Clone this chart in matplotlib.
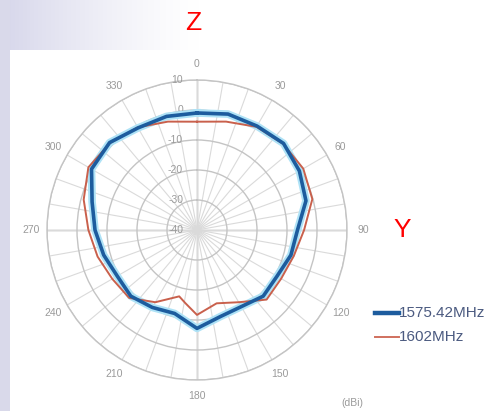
import numpy as np
import matplotlib.pyplot as plt
from matplotlib.patches import Rectangle
from matplotlib.transforms import offset_copy

# angles in degrees (clockwise from top), gain in dBi
angles_1575 = [0, 15, 30, 45, 60, 75, 90, 105, 120, 135, 150, 165, 180,
               195, 210, 225, 240, 255, 270, 285, 300, 315, 330, 345, 360]
gain_1575 = [-1.0, 0.0, 0.0, 0.8, -0.6, -2.4, -6.5, -7.6, -9.2, -8.8, -10.5, -10.1, -7.2,
             -11.2, -10.2, -8.8, -9.3, -7.8, -6.0, -3.8, 0.6, 1.2, -0.7, -0.8, -1.0]

angles_1602 = [0, 15, 30, 45, 60, 75, 90, 105, 120, 135, 150, 165, 180,
               189, 195, 210, 225, 240, 255, 270, 285, 300, 315, 330, 345, 360]
gain_1602 = [-3.9, -2.6, -0.3, 0.6, 0.9, -0.2, -4.3, -6.6, -7.6, -7.2, -12.2, -14.7, -11.7,
             -15.3, -17.1, -12.2, -8.0, -7.4, -5.7, -3.8, -0.9, 1.8, 1.0, -0.5, -2.6, -3.9]

r_ticks = [-40, -30, -20, -10, 0, 10]
theta_labels = [0, 30, 60, 90, 120, 150, 180, 210, 240, 270, 300, 330]

fig = plt.figure(figsize=(4.92, 4.11), dpi=100)
fig.patch.set_facecolor('white')

# slide background strip (lavender) on left and top-left
bg = fig.add_axes([0, 0, 1, 1], zorder=-5)
bg.set_xlim(0, 492)
bg.set_ylim(411, 0)
bg.axis('off')
bg.add_patch(Rectangle((0, 0), 10, 411, color='#d9d9ea', lw=0))
fade = np.linspace(1, 0, 200)[None, :] ** 1.3
img = np.ones((50, 200, 3))
lav = np.array([0.84, 0.84, 0.92])
img = 1 - (1 - lav)[None, None, :] * fade[:, :, None]
bg.imshow(img, extent=(0, 200, 50, 0), aspect='auto')
bg.set_xlim(0, 492)
bg.set_ylim(411, 0)

ax = fig.add_axes([0.0955, 0.0754, 0.6098, 0.73], projection='polar')
ax.set_theta_zero_location('N')
ax.set_theta_direction(-1)
ax.set_ylim(-40, 10)
ax.set_facecolor('white')

ax.set_xticks(np.deg2rad(np.arange(0, 360, 10)))
ax.set_xticklabels([])
ax.set_yticks(r_ticks)
ax.set_yticklabels([])
ax.grid(True, axis='x', color='#dadada', lw=0.8)
ax.grid(True, axis='y', color='#c4c4c4', lw=1.0)
ax.spines['polar'].set_color('#c4c4c4')
ax.spines['polar'].set_linewidth(1.0)
for a in [0, 90]:
    ax.plot(np.deg2rad([a, a + 180]), [10, 10], color='#c8c8c8', lw=1.0, zorder=1)
    ax.plot([np.deg2rad(a), np.deg2rad(a)], [-40, 10], color='#c8c8c8', lw=1.0, zorder=1)
    ax.plot([np.deg2rad(a + 180), np.deg2rad(a + 180)], [-40, 10], color='#c8c8c8', lw=1.0, zorder=1)

for t in theta_labels:
    ax.text(np.deg2rad(t), 15.3, str(t), ha='center', va='center', fontsize=7.5,
            color='#9a9a9a', family='Liberation Sans', clip_on=False)

tr = offset_copy(ax.transData, fig=fig, x=-10, y=0, units='points')
for r in r_ticks:
    ax.text(0, r, str(r), ha='right', va='center', fontsize=7.5, color='#9a9a9a',
            family='Liberation Sans', transform=tr, clip_on=False)

th1 = np.deg2rad(angles_1575)
th2 = np.deg2rad(angles_1602)
ax.plot(th1, gain_1575, color='#aee2f6', lw=5.5, zorder=3, solid_joinstyle='round')
ax.plot(th2, gain_1602, color='#c9604c', lw=1.4, zorder=4)
l1, = ax.plot(th1, gain_1575, color='#1d5c9e', lw=2.6, zorder=5)

# legend drawn by hand to match the slide
fig.add_artist(plt.Line2D([375 / 492, 399 / 492], [1 - 313 / 411] * 2, color='#1d5c9e', lw=3.2))
fig.add_artist(plt.Line2D([375 / 492, 399 / 492], [1 - 337 / 411] * 2, color='#d0705e', lw=1.4))
fig.text(399 / 492, 1 - 313 / 411, '1575.42MHz', ha='left', va='center', fontsize=11,
         color='#4b5a80', family='Liberation Sans')
fig.text(399 / 492, 1 - 337 / 411, '1602MHz', ha='left', va='center', fontsize=11,
         color='#4b5a80', family='Liberation Sans')
fig.text(352 / 492, 1 - 403 / 411, '(dBi)', ha='center', va='center', fontsize=7.5,
         color='#9a9a9a', family='Liberation Sans')

fig.text(193 / 492, 1 - 23 / 411, 'Z', ha='center', va='center', fontsize=19,
         color='red', family='Liberation Sans')
fig.text(402 / 492, 1 - 230 / 411, 'Y', ha='center', va='center', fontsize=19,
         color='red', family='Liberation Sans')

fig.savefig('out.png', dpi=100)
